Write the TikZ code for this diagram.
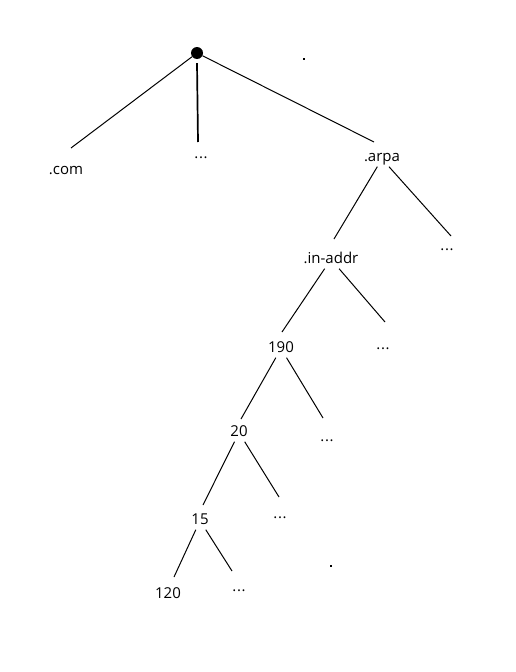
\documentclass[tikz,border=0pt]{standalone}
\usepackage{fontspec}
\setmainfont{Open Sans}
\begin{document}
\begin{tikzpicture}[x=1pt,y=-1pt,
  lbl/.style={anchor=base,inner sep=1.5pt,text depth=4pt,font=\fontsize{15}{17}\selectfont},
  edge/.style={line width=1pt},
  speck/.style={fill=black,minimum size=1.5pt,inner sep=0pt}]
\useasboundingbox (0,0) rectangle (516,672);
% root
\node[circle,fill=black,inner sep=0pt,minimum size=12pt] (root) at (197,53) {};
% labels
\node[lbl] (com) at (66,174) {.com};
\node[lbl] (d1) at (201,158) {.\kern0.6pt.\kern0.6pt.};
\node[lbl] (arpa) at (382,161) {.arpa};
\node[lbl] (d2) at (447,250) {.\kern0.6pt.\kern0.6pt.};
\node[lbl] (inaddr) at (331,263) {.in-addr};
\node[lbl] (d3) at (383,349) {.\kern0.6pt.\kern0.6pt.};
\node[lbl] (n190) at (281,352) {190};
\node[lbl] (d4) at (327,441) {.\kern0.6pt.\kern0.6pt.};
\node[lbl] (n20) at (239,436) {20};
\node[lbl] (d5) at (280,518) {.\kern0.6pt.\kern0.6pt.};
\node[lbl] (n15) at (200,524) {15};
\node[lbl] (d6) at (239,591) {.\kern0.6pt.\kern0.6pt.};
\node[lbl] (n120) at (168,598) {120};
% connector ends
\coordinate (e-com) at (71,148);
\coordinate (e-d1) at (198,142);
\coordinate (e-arpa) at (374,142);
\coordinate (e-inaddr) at (334,239);
\coordinate (e-d2) at (451,236);
\coordinate (e-190) at (282,332);
\coordinate (e-d3) at (385,322);
\coordinate (e-20) at (241,419);
\coordinate (e-d4) at (323,418);
\coordinate (e-15) at (203,505);
\coordinate (e-d5) at (279,497);
\coordinate (e-120) at (174,577);
\coordinate (e-d6) at (232,571);
% connectors
\draw[edge] (root) -- (e-com);
\draw[line width=1.7pt] ([yshift=-4pt]root.south) -- (e-d1);
\draw[edge] (root) -- (e-arpa);
\draw[edge] (arpa) -- (e-inaddr);
\draw[edge] (arpa) -- (e-d2);
\draw[edge] (inaddr) -- (e-190);
\draw[edge] (inaddr) -- (e-d3);
\draw[edge] (n190) -- (e-20);
\draw[edge] (n190) -- (e-d4);
\draw[edge] (n20) -- (e-15);
\draw[edge] (n20) -- (e-d5);
\draw[edge] (n15) -- (e-120);
\draw[edge] (n15) -- (e-d6);
% stray specks
\node[speck] (s1) at (304,59) {};
\node[speck] (s2) at (331,566) {};
\end{tikzpicture}
\end{document}
